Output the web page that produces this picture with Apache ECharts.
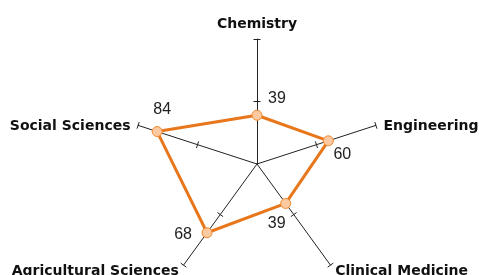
<!DOCTYPE html>
<html style="height: 100%">
<head>
    <meta charset="UTF-8">
    <title>Radar</title>
    <script src="https://cdn.jsdelivr.net/npm/echarts@6/dist/echarts.min.js"></script>
</head>
<body style="height: 100%; margin: 0; background: #fff">
    <div id="main" style="width: 479px; height: 275px;"></div>
    <script>
        // ECharts radar goes counter-clockwise from the top
        var indicators = ['Chemistry', 'Social Sciences', 'Agricultural Sciences', 'Clinical Medicine', 'Engineering'];
        var values = [39, 84, 68, 39, 60];
        var axisMax = 100;
        var tickValues = [50, 100];

        // where each value label sits relative to its point
        var labelOffsets = [[20, -17], [5, -22], [-24, 2], [-9, 20], [14, 14]];

        var myChart = echarts.init(document.getElementById('main'));

        var indicatorList = indicators.map(function (name) {
            return { name: name, min: 0, max: axisMax };
        });

        var radarBase = {
            center: [257, 164],
            radius: 125,
            startAngle: 90,
            splitNumber: 2,
            shape: 'polygon',
            indicator: indicatorList,
            splitLine: { show: false },
            splitArea: { show: false },
            axisLabel: { show: false }
        };

        var nameFont = {
            color: '#111',
            fontWeight: 'bold',
            fontSize: 14,
            fontFamily: 'DejaVu Sans'
        };

        // two radars: ticks drawn on both sides so they cross the axis line
        var radar0 = Object.assign({}, radarBase, {
            axisName: Object.assign({
                formatter: function (name) {
                    // side labels sit a little lower in the original
                    if (name === 'Engineering' || name === 'Social Sciences') {
                        return '{low|' + name + '}';
                    }
                    return name;
                },
                rich: {
                    low: Object.assign({ padding: [6, 0, 0, 0] }, nameFont)
                }
            }, nameFont),
            nameGap: 8,
            axisLine: { show: true, lineStyle: { color: '#222', width: 1 } },
            axisTick: { show: true, length: 3.5, customValues: tickValues, lineStyle: { color: '#222', width: 1 } }
        });
        var radar1 = Object.assign({}, radarBase, {
            axisName: { show: false },
            axisLine: { show: false },
            axisTick: { show: true, length: -3.5, customValues: tickValues, lineStyle: { color: '#222', width: 1 } }
        });

        var series = [{
            type: 'radar',
            radarIndex: 0,
            z: 5,
            symbol: 'circle',
            symbolSize: 10,
            lineStyle: { color: '#e8771c', width: 3 },
            itemStyle: { color: '#fdc9a0', borderColor: '#f08a30', borderWidth: 1 },
            label: { show: false },
            data: [{ value: values }]
        }];

        // one label-only series per vertex
        indicators.forEach(function (name, k) {
            series.push({
                type: 'radar',
                radarIndex: 0,
                z: 6,
                silent: true,
                symbol: 'circle',
                symbolSize: 1,
                lineStyle: { width: 0, opacity: 0 },
                itemStyle: { color: 'rgba(0,0,0,0)' },
                label: {
                    show: true,
                    position: 'inside',
                    offset: labelOffsets[k],
                    color: '#222',
                    fontSize: 16,
                    fontFamily: 'Liberation Sans',
                    formatter: function (p) {
                        return p.dimensionIndex === k ? String(p.value) : '';
                    }
                },
                data: [{ value: values }]
            });
        });

        var option = {
            animation: false,
            backgroundColor: '#fff',
            radar: [radar0, radar1],
            series: series
        };

        myChart.setOption(option);
    </script>
</body>
</html>
